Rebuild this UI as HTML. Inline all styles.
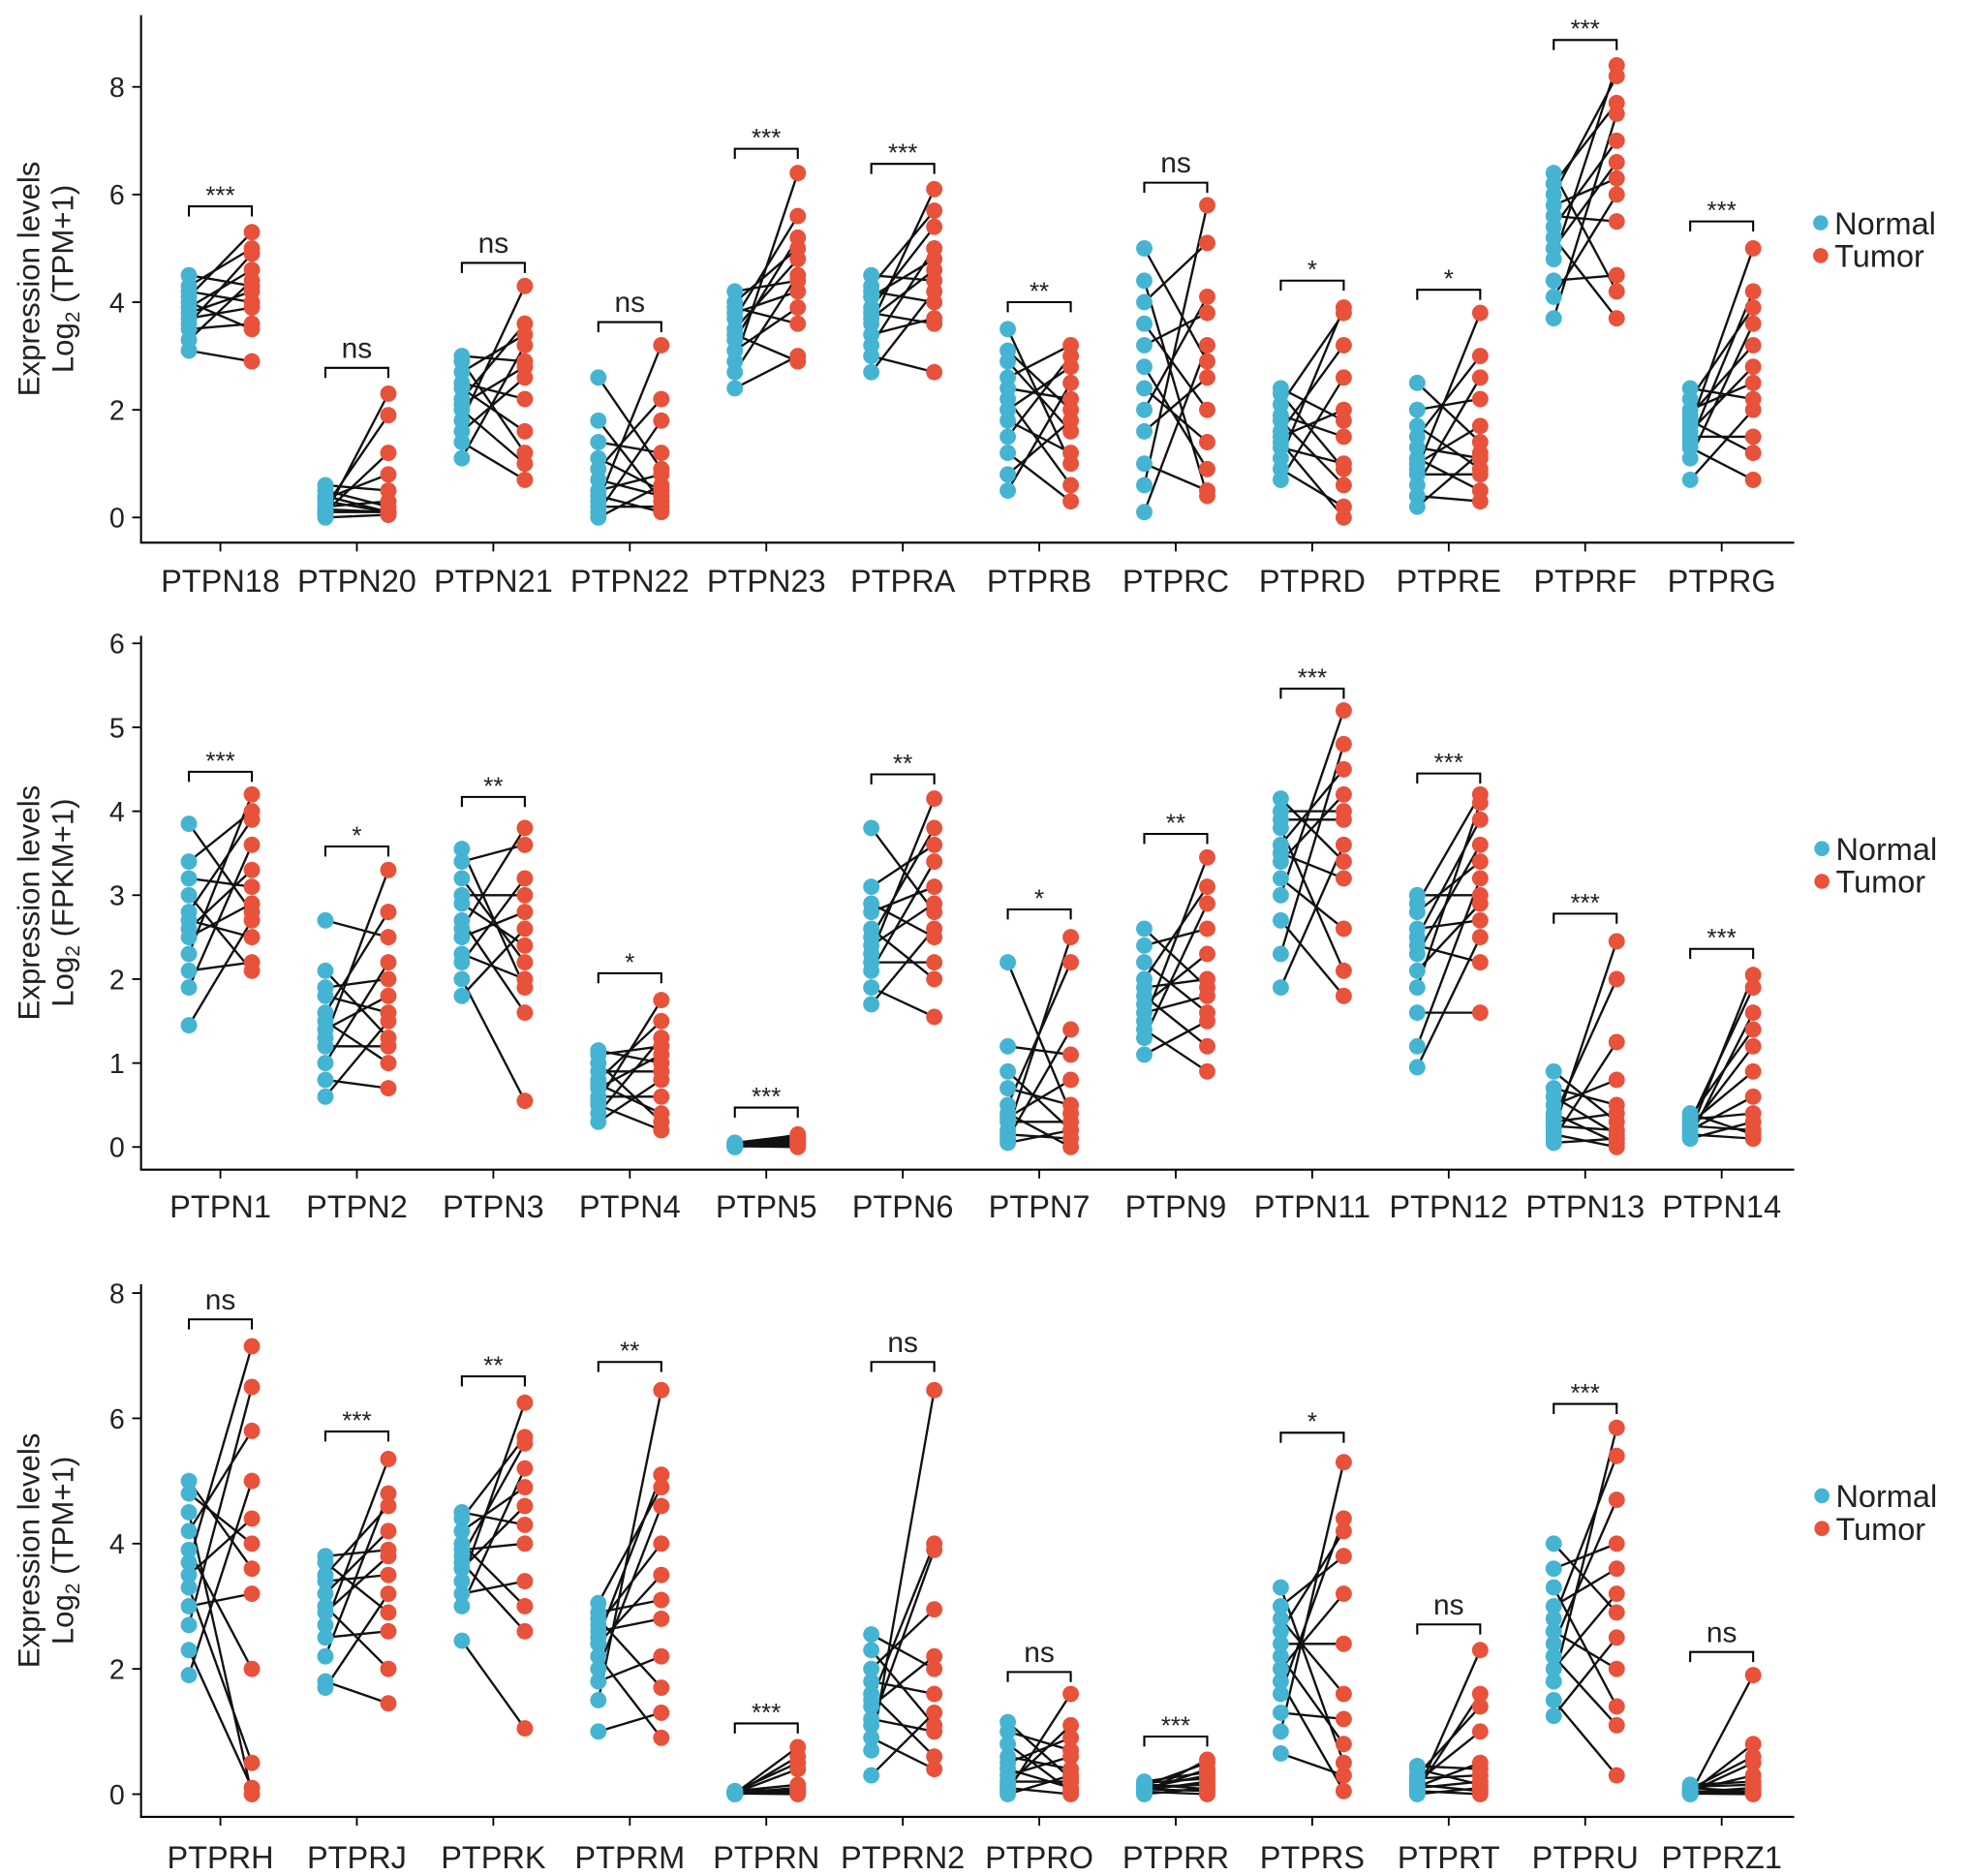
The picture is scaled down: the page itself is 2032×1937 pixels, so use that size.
<!DOCTYPE html>
<html><head><meta charset="utf-8"><style>
html,body{margin:0;padding:0;background:#fff;}
svg{display:block;font-family:"Liberation Sans",Arial,sans-serif;}
</style></head><body>
<svg id="chart" width="2032" height="1937" viewBox="0 0 1563 1490" xmlns="http://www.w3.org/2000/svg"></svg>
<script>
// ---------- Panel 1 data (TPM) ----------
const p1Categories = ["PTPN18","PTPN20","PTPN21","PTPN22","PTPN23","PTPRA","PTPRB","PTPRC","PTPRD","PTPRE","PTPRF","PTPRG"];
const p1Sig = ["***","ns","ns","ns","***","***","**","ns","*","*","***","***"];
const p1Bracket = [5.78,2.78,4.73,3.63,6.85,6.57,4.0,6.22,4.4,4.23,8.87,5.5];
const p1Ticks = [0,2,4,6,8];
const p1Normal = [
[3.1,3.3,3.5,3.6,3.7,3.8,3.9,4.0,4.1,4.2,4.3,4.5],
[0,0.05,0.1,0.1,0.15,0.2,0.2,0.3,0.35,0.4,0.5,0.6],
[1.1,1.4,1.6,1.8,2.0,2.1,2.2,2.4,2.5,2.7,2.9,3.0],
[0,0.1,0.2,0.3,0.4,0.5,0.7,0.9,1.1,1.4,1.8,2.6],
[2.4,2.7,2.9,3.1,3.3,3.4,3.5,3.7,3.8,3.9,4.0,4.2],
[2.7,3.0,3.2,3.4,3.6,3.7,3.8,3.9,4.1,4.2,4.3,4.5],
[0.5,0.8,1.2,1.5,1.8,2.0,2.2,2.4,2.6,2.9,3.1,3.5],
[0.1,0.6,1.0,1.6,2.0,2.4,2.8,3.2,3.6,4.0,4.4,5.0],
[0.7,0.9,1.1,1.3,1.4,1.5,1.6,1.8,1.9,2.1,2.3,2.4],
[0.2,0.4,0.6,0.8,0.9,1.0,1.1,1.3,1.5,1.7,2.0,2.5],
[3.7,4.1,4.4,4.8,5.0,5.2,5.4,5.6,5.8,6.0,6.2,6.4],
[0.7,1.1,1.3,1.4,1.5,1.6,1.7,1.8,1.9,2.0,2.2,2.4]];
const p1Tumor = [
[2.9,4.4,3.6,4.9,3.9,4.2,4.6,3.5,5.3,4.0,5.0,4.3],
[0.05,2.3,0.1,1.2,0.1,0.3,1.9,0.1,0.8,0.1,0.2,0.5],
[3.2,0.7,2.6,4.3,1.0,2.8,3.6,1.6,2.2,3.4,1.2,2.9],
[0.6,1.8,0.2,3.2,0.1,0.8,0.4,2.2,0.5,1.2,0.3,0.9],
[3.0,4.5,6.4,3.9,5.2,2.9,4.8,5.6,4.2,3.6,5.0,4.4],
[4.2,2.7,5.0,3.7,6.1,4.6,3.6,5.4,4.8,4.0,5.7,4.4],
[2.5,1.8,0.3,3.0,1.2,2.8,0.6,2.2,3.2,1.6,2.0,1.0],
[3.2,5.8,0.5,2.6,4.1,1.4,0.9,3.8,2.0,5.1,0.4,2.9],
[2.6,0.2,3.9,1.0,0,2.0,3.2,0.6,1.5,3.8,0.9,1.8],
[1.2,0.3,2.6,0.8,3.8,1.7,0.5,1.1,3.0,0.9,2.2,1.4],
[7.5,6.0,4.5,8.4,6.6,3.7,7.0,5.5,6.3,8.2,7.7,4.2],
[2.0,3.6,0.7,4.2,1.5,2.8,5.0,1.2,3.2,2.5,3.9,2.2]];
// ---------- Panel 2 data (FPKM) ----------
const p2Categories = ["PTPN1","PTPN2","PTPN3","PTPN4","PTPN5","PTPN6","PTPN7","PTPN9","PTPN11","PTPN12","PTPN13","PTPN14"];
const p2Sig = ["***","*","**","*","***","**","*","**","***","***","***","***"];
const p2Bracket = [4.47,3.58,4.17,2.07,0.47,4.44,2.83,3.73,5.46,4.45,2.78,2.36];
const p2Ticks = [0,1,2,3,4,5,6];
const p2Normal = [
[1.45,1.9,2.1,2.3,2.5,2.6,2.7,2.8,3.0,3.2,3.4,3.85],
[0.6,0.8,1.0,1.2,1.3,1.4,1.5,1.6,1.8,1.9,2.1,2.7],
[1.8,2.0,2.2,2.3,2.5,2.6,2.7,2.9,3.0,3.2,3.4,3.55],
[0.3,0.4,0.5,0.55,0.6,0.7,0.75,0.8,0.9,1.0,1.1,1.15],
[0,0,0.01,0.01,0.02,0.02,0.03,0.03,0.04,0.04,0.05,0.05],
[1.7,1.9,2.1,2.2,2.3,2.4,2.5,2.6,2.8,2.9,3.1,3.8],
[0.05,0.1,0.15,0.2,0.3,0.35,0.4,0.5,0.7,0.9,1.2,2.2],
[1.1,1.3,1.4,1.5,1.6,1.7,1.8,1.9,2.0,2.2,2.4,2.6],
[1.9,2.3,2.7,3.0,3.2,3.4,3.5,3.6,3.8,3.9,4.0,4.15],
[0.95,1.2,1.6,1.9,2.1,2.3,2.4,2.5,2.6,2.8,2.9,3.0],
[0.05,0.1,0.15,0.2,0.25,0.3,0.35,0.4,0.5,0.6,0.7,0.9],
[0.1,0.12,0.15,0.18,0.2,0.22,0.25,0.28,0.3,0.33,0.36,0.4]];
const p2Tumor = [
[2.7,3.6,2.2,4.2,2.9,3.3,2.5,3.9,2.1,3.1,4.0,2.8],
[1.5,0.7,2.2,1.2,3.3,1.8,1.0,2.8,1.6,2.0,1.3,2.5],
[2.6,0.55,3.2,2.0,2.8,3.8,1.6,2.4,3.0,2.2,3.6,1.9],
[0.8,1.3,0.2,1.75,0.6,1.1,0.4,1.5,0.9,0.3,1.2,1.0],
[0.05,0.1,0,0.15,0.08,0.02,0.12,0.06,0.1,0.03,0.14,0.09],
[2.6,1.55,3.4,2.2,4.15,2.9,3.8,2.0,3.1,2.5,3.6,2.8],
[0.2,1.4,0.1,2.5,0.3,0.8,0,2.2,0.5,0.2,1.1,0.4],
[1.5,2.9,0.9,3.45,1.8,2.3,1.2,2.0,3.1,1.6,2.6,1.9],
[3.6,4.8,1.8,5.2,2.6,4.2,3.2,4.5,2.1,3.9,4.0,3.4],
[2.5,3.2,1.6,4.1,2.9,3.6,2.2,3.9,2.7,3.4,4.2,3.0],
[0.1,1.25,0,2.45,0.2,0.4,2.0,0.05,0.8,0.15,0.5,0.3],
[0.3,1.6,0.1,2.05,0.6,1.2,0.2,0.9,1.9,0.4,1.4,0.15]];
// ---------- Panel 3 data (TPM) ----------
const p3Categories = ["PTPRH","PTPRJ","PTPRK","PTPRM","PTPRN","PTPRN2","PTPRO","PTPRR","PTPRS","PTPRT","PTPRU","PTPRZ1"];
const p3Sig = ["ns","***","**","**","***","ns","ns","***","*","ns","***","ns"];
const p3Bracket = [7.58,5.79,6.67,6.9,1.13,6.9,1.95,0.92,5.77,2.71,6.23,2.27];
const p3Ticks = [0,2,4,6,8];
const p3Normal = [
[1.9,2.3,2.7,3.0,3.3,3.5,3.7,3.9,4.2,4.5,4.8,5.0],
[1.7,1.8,2.2,2.5,2.7,2.9,3.0,3.2,3.4,3.5,3.7,3.8],
[2.45,3.0,3.2,3.4,3.6,3.7,3.8,3.9,4.0,4.2,4.4,4.5],
[1.0,1.5,1.8,2.0,2.2,2.4,2.5,2.6,2.7,2.8,2.9,3.05],
[0,0,0.01,0.01,0.02,0.02,0.03,0.03,0.04,0.04,0.05,0.05],
[0.3,0.7,0.9,1.1,1.2,1.4,1.5,1.6,1.8,2.0,2.3,2.55],
[0,0.05,0.1,0.15,0.2,0.3,0.4,0.5,0.6,0.8,1.0,1.15],
[0,0.02,0.04,0.05,0.06,0.08,0.1,0.12,0.14,0.16,0.18,0.2],
[0.65,1.0,1.3,1.6,1.8,2.0,2.2,2.4,2.6,2.8,3.0,3.3],
[0,0.02,0.05,0.07,0.1,0.12,0.15,0.2,0.25,0.3,0.4,0.45],
[1.25,1.5,1.8,2.0,2.2,2.4,2.6,2.8,3.0,3.3,3.6,4.0],
[0,0,0.01,0.02,0.03,0.04,0.05,0.06,0.08,0.1,0.12,0.15]];
const p3Tumor = [
[5.0,0.1,6.5,3.2,0.5,4.4,7.15,2.0,5.8,0,4.0,3.6],
[3.2,1.45,4.8,2.6,5.35,3.8,2.0,4.2,3.5,4.6,2.9,3.9],
[1.05,5.2,3.4,6.25,4.6,2.6,5.6,4.0,3.0,4.9,5.7,4.3],
[1.3,6.45,2.2,4.6,0.9,3.5,5.1,2.8,4.0,1.7,3.1,4.9],
[0.05,0.6,0,0.75,0.1,0.4,0.02,0.08,0.5,0.03,0.07,0.15],
[1.3,6.45,0.4,3.9,1.0,2.2,4.0,0.6,1.6,2.95,1.1,2.0],
[0.3,1.6,0,1.1,0.2,0.6,0.1,0.9,0.4,0.05,0.7,0.25],
[0.1,0.55,0,0.4,0.2,0.05,0.3,0.15,0.5,0.08,0.25,0.35],
[0.3,5.3,1.2,4.4,0.05,3.2,0.8,2.4,4.2,1.6,3.8,0.5],
[0.1,2.3,0,1.6,0.2,0.5,0.05,1.0,0.3,1.4,0.15,0.4],
[2.5,0.3,5.85,3.2,1.1,4.7,2.0,5.4,3.6,1.4,4.0,2.9],
[0.05,1.9,0,0.8,0.1,0.5,0.02,0.3,0.6,0.04,0.15,0.2]];

const NS="http://www.w3.org/2000/svg";
const svg=document.getElementById('chart');
const BLUE="#45b4d3", RED="#e8513a";
function mk(tag,attrs,parent){const e=document.createElementNS(NS,tag);for(const k in attrs)e.setAttribute(k,attrs[k]);(parent||svg).appendChild(e);return e;}

function drawPanel(pid,cfg){
  const g=mk('g',{});
  
  
  const xScale=i=>175+i*108.4;
  const yScale=v=>cfg.zero-v*cfg.unit;
  const ax=mk('path',{d:`M112 ${cfg.top} V${cfg.axisY} H1425`,stroke:'#000','stroke-width':1.6,fill:'none'},g);
  
  
  cfg.ticks.forEach(t=>{
    const y=yScale(t);
    mk('line',{x1:105,x2:112,y1:y,y2:y,stroke:'#000','stroke-width':1.4},g);
    const tx=mk('text',{x:99,y:y+8,'text-anchor':'end','font-size':22,fill:'#222'},g);
    tx.textContent=t;
    
    
  });
  const yc=(cfg.top+cfg.axisY)/2;
  const t1=mk('text',{transform:`translate(31 ${yc}) rotate(-90)`,'text-anchor':'middle','font-size':24,fill:'#222'},g);
  t1.textContent='Expression levels';
  
  
  const t2=mk('text',{transform:`translate(58 ${yc}) rotate(-90)`,'text-anchor':'middle','font-size':24,fill:'#222'},g);
  t2.innerHTML='Log<tspan font-size="16" dy="5">2</tspan><tspan dy="-5"> ('+cfg.unitLabel+')</tspan>';
  
  
  cfg.cats.forEach((c,i)=>{
    const xc=xScale(i), xn=xc-25, xt=xc+25;
    mk('line',{x1:xc,x2:xc,y1:cfg.axisY,y2:cfg.axisY+7,stroke:'#000','stroke-width':1.4},g);
    const lb=mk('text',{x:xc,y:cfg.labelY,'text-anchor':'middle','font-size':25,fill:'#222'},g);
    lb.textContent=c;
    
    
    const N=cfg.normal[i],T=cfg.tumor[i];
    N.forEach((v,j)=>{
      const ln=mk('line',{x1:xn,y1:yScale(v),x2:xt,y2:yScale(T[j]),stroke:'#111','stroke-width':1.8},g);
      
      
    });
    N.forEach(v=>{
      const d=mk('circle',{cx:xn,cy:yScale(v),r:6.5,fill:BLUE},g);
      
      
    });
    T.forEach(v=>{
      const d=mk('circle',{cx:xt,cy:yScale(v),r:6.5,fill:RED},g);
      
      
    });
    const by=yScale(cfg.bracket[i]);
    const br=mk('path',{d:`M${xn} ${by+8} V${by} H${xt} V${by+8}`,stroke:'#000','stroke-width':1.6,fill:'none'},g);
    
    
    const isNs=cfg.sig[i]==='ns';
    const st=mk('text',{x:xc,y:isNs?by-8:by-2,'text-anchor':'middle','font-size':isNs?23:20,fill:'#222'},g);
    st.textContent=cfg.sig[i];
    
    
  });
  const lg=mk('g',{},g);
  
  
  [['Normal',BLUE,0],['Tumor',RED,26]].forEach(([n,col,dy])=>{
    const ly=cfg.legY+dy;
    mk('circle',{cx:cfg.legX,cy:ly,r:6,fill:col},lg);
    const lt=mk('text',{x:cfg.legX+11,y:ly+9,'font-size':25,fill:'#222'},lg);
    lt.textContent=n;
    
    
  });
}
drawPanel('panel-ptp-tpm-1',{cats:p1Categories,sig:p1Sig,bracket:p1Bracket,ticks:p1Ticks,normal:p1Normal,tumor:p1Tumor,zero:411,unit:42.75,top:12,axisY:431,labelY:470,unitLabel:'TPM+1',legX:1446,legY:177});
drawPanel('panel-ptpn-fpkm',{cats:p2Categories,sig:p2Sig,bracket:p2Bracket,ticks:p2Ticks,normal:p2Normal,tumor:p2Tumor,zero:911,unit:66.67,top:505,axisY:929,labelY:967,unitLabel:'FPKM+1',legX:1447,legY:674});
drawPanel('panel-ptpr-tpm-2',{cats:p3Categories,sig:p3Sig,bracket:p3Bracket,ticks:p3Ticks,normal:p3Normal,tumor:p3Tumor,zero:1425,unit:49.75,top:1020,axisY:1443,labelY:1484,unitLabel:'TPM+1',legX:1447,legY:1188});
</script>
</body></html>
